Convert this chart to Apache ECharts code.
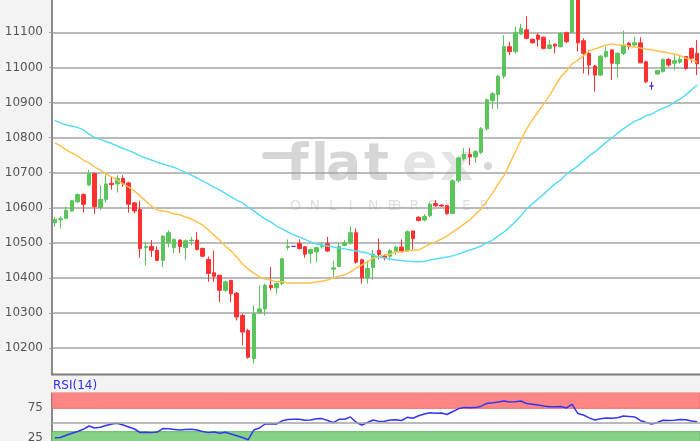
<!DOCTYPE html>
<html><head><meta charset="utf-8">
<script src="https://cdn.jsdelivr.net/npm/echarts@6/dist/echarts.min.js"></script>
<style>html,body{margin:0;padding:0;background:#f3f3f3}#c{width:700px;height:441px}</style>
</head><body><div id="c"></div>
<script>
// ---- data ----
const open = [10557,10566,10570,10591,10617,10638,10665,10698,10601,10624,
10670,10668,10684,10671,10614,10595,10487,10490,10479,10450,
10500,10487,10508,10487,10506,10508,10484,10453,10415,10408,
10365,10393,10357,10293,10250,10170,10300,10312,10379,10372,
10384,10487,10490,10498,10489,10470,10474,10489,10498,10425,
10433,10493,10500,10529,10452,10401,10430,10479,10463,10462,
10475,10488,10477,10534,10573,10565,10577,10612,10608,10606,
10584,10677,10740,10752,10745,10758,10825,10905,10923,10975,
11059,11045,11095,11107,11080,11092,11086,11054,11066,11059,
11099,11100,11230,11076,11040,11004,10978,11031,11050,11010,
11040,11069,11064,11070,11016,10947,10981,10988,11023,11012,
11015,11031,11054,11040];
const close = [10567,10569,10593,10620,10638,10610,10698,10603,10624,10668,
10666,10684,10668,10610,10591,10484,10490,10479,10450,10519,
10529,10510,10490,10506,10508,10481,10462,10413,10405,10365,
10389,10355,10289,10246,10174,10298,10312,10379,10372,10384,
10455,10490,10490,10484,10468,10481,10487,10493,10477,10429,
10490,10500,10529,10445,10401,10427,10468,10467,10458,10478,
10488,10477,10532,10512,10564,10575,10610,10606,10605,10583,
10677,10742,10752,10745,10760,10825,10908,10925,10975,11059,
11045,11099,11111,11083,11070,11080,11054,11064,11061,11097,
11073,11230,11070,11040,11007,10978,11032,11045,11012,11040,
11064,11059,11070,11013,10959,10947,10991,11023,11007,11019,
11023,10997,11026,11010];
const low = [10546,10541,10567,10589,10614,10586,10662,10582,10593,10614,
10652,10643,10660,10586,10584,10458,10436,10460,10450,10431,
10487,10471,10471,10452,10493,10479,10460,10389,10390,10331,
10360,10331,10279,10208,10170,10157,10298,10293,10365,10355,
10379,10479,10490,10481,10458,10441,10446,10484,10474,10403,
10431,10490,10495,10441,10384,10384,10395,10453,10450,10450,
10466,10472,10475,10482,10561,10561,10574,10603,10602,10580,
10582,10672,10735,10722,10728,10753,10820,10882,10882,10968,
11035,11040,11092,11080,11068,11059,11051,11051,11040,11057,
11069,11098,11045,10983,10978,10931,10975,11026,10964,10969,
11035,11050,11059,11012,10955,10936,10979,10985,11002,10993,
11010,10993,11013,10978];
const high = [10574,10576,10603,10622,10641,10641,10708,10700,10665,10693,
10690,10693,10693,10674,10617,10620,10503,10508,10490,10522,
10536,10512,10510,10510,10517,10531,10487,10461,10478,10408,
10393,10395,10360,10298,10255,10322,10379,10384,10431,10389,
10458,10510,10490,10510,10490,10484,10489,10503,10517,10450,
10500,10508,10548,10541,10455,10450,10480,10513,10468,10483,
10492,10510,10536,10535,10576,10582,10615,10622,10610,10608,
10682,10746,10770,10770,10765,10830,10911,10930,10978,11092,
11073,11116,11124,11146,11082,11097,11088,11078,11069,11100,
11102,11260,11250,11083,11050,11007,11035,11059,11051,11043,
11105,11073,11088,11086,11019,10959,10993,11023,11026,11035,
11035,11032,11057,11078];
const maShort = [10785,10776,10765,10756,10748,10736,10728,10716,10708,10696,
10688,10679,10668,10659,10648,10634,10619,10605,10594,10591,
10588,10582,10580,10574,10568,10560,10551,10537,10522,10508,
10491,10477,10460,10440,10426,10414,10403,10397,10394,10389,
10389,10386,10386,10386,10386,10386,10389,10391,10394,10400,
10406,10409,10417,10428,10437,10446,10457,10460,10466,10468,
10474,10474,10477,10480,10480,10488,10497,10503,10511,10520,
10531,10542,10554,10565,10582,10597,10619,10642,10668,10691,
10725,10759,10793,10825,10850,10873,10896,10919,10947,10973,
10990,11010,11021,11033,11047,11052,11058,11064,11067,11064,
11064,11061,11058,11055,11052,11050,11047,11044,11041,11038,
11033,11027,11021,11015];
const maLong = [10849,10842,10836,10833,10829,10822,10810,10800,10795,10789,
10783,10776,10769,10763,10756,10748,10742,10736,10730,10725,
10720,10715,10708,10701,10693,10685,10676,10668,10659,10651,
10641,10631,10622,10614,10602,10591,10579,10568,10560,10548,
10540,10531,10523,10517,10510,10503,10497,10494,10491,10488,
10485,10483,10480,10477,10474,10471,10465,10460,10457,10454,
10451,10450,10448,10447,10446,10448,10451,10454,10457,10460,
10463,10468,10474,10480,10485,10491,10500,10508,10520,10531,
10545,10560,10577,10597,10611,10625,10639,10654,10668,10679,
10696,10708,10719,10733,10748,10759,10773,10787,10799,10813,
10825,10836,10847,10853,10862,10867,10876,10884,10890,10901,
10910,10921,10936,10950];
const rsi = [25.0,25.3,29.0,32.3,35.3,38.9,44.4,41.1,42.2,45.2,
47.7,48.8,46.0,42.7,39.4,33.6,34.1,33.4,34.4,40.2,
39.7,38.7,37.7,38.7,38.9,37.7,35.3,33.4,34.4,32.5,
33.9,31.1,28.1,25.3,21.5,37.7,41.1,47.7,47.7,47.7,
53.0,55.1,55.5,55.5,53.8,54.3,56.3,56.6,53.5,49.8,
55.5,55.6,59.4,50.5,46.0,50.2,54.3,52.0,52.3,54.3,
54.6,53.5,58.8,57.3,61.4,64.2,66.4,65.4,65.9,63.4,
68.4,72.8,75.2,74.5,74.8,77.2,81.8,82.8,84.1,85.6,
84.1,84.6,85.8,81.6,80.5,79.1,77.5,76.3,76.3,76.8,
74.2,80.3,65.1,62.6,57.9,54.3,56.3,57.6,57.1,58.1,
60.9,60.3,59.3,53.5,50.2,47.7,50.2,54.0,53.3,53.8,
55.1,54.6,52.6,51.5];
const priceTicks = [10200,10300,10400,10500,10600,10700,10800,10900,11000,11100,11200];
const rsiTicks = [25,75];
const rsiOverbought = [73.7,100];
const rsiOversold = [0,35];
const rsiMid = 50;
const categories = open.map((_, i) => 'K' + (i + 1));

const ohlc = open.map((o, i) => [o, close[i], low[i], high[i]]);

const chart = echarts.init(document.getElementById('c'), null, {renderer: 'canvas'});
const lab = {color: '#555', fontFamily: 'DejaVu Sans', fontSize: 12};

function letters(str, x0, step, y, font, fill) {
  return str.split('').map((ch, k) => ({
    type: 'text', z: 0, silent: true,
    style: {text: ch, x: x0 + k * step, y: y, font: font, fill: fill, verticalAlign: 'middle'}
  }));
}
const wm = [];
wm.push({type: 'rect', z: 0, silent: true, shape: {x: 262, y: 152, width: 36, height: 7, r: 3.5}, style: {fill: '#d6d6d6'}});
const flatFont = 'bold 52px "DejaVu Sans"';
[['f', 286, '#d6d6d6'], ['l', 311, '#d6d6d6'], ['a', 326, '#d6d6d6'], ['t', 364, '#d6d6d6'], ['e', 402, '#e4e4e4'], ['x', 440, '#e4e4e4']]
  .forEach(([ch, x, c]) => wm.push({type: 'text', z: 0, silent: true, style: {text: ch, x: x, y: 166, font: flatFont, fill: c, verticalAlign: 'middle'}}));
wm.push({type: 'circle', z: 0, silent: true, shape: {cx: 488, cy: 166, r: 4}, style: {fill: '#d6d6d6'}});
wm.push(...letters('ONLINE', 290, 19.5, 206, '14px "DejaVu Sans"', '#e0e0e0'));
wm.push(...letters('BROKER', 392, 17.5, 206, '14px "DejaVu Sans"', '#e0e0e0'));

chart.setOption({
  animation: false,
  backgroundColor: '#f3f3f3',
  grid: [
    {left: 52, right: 0, top: -2.8, height: 386.1, show: true, backgroundColor: '#fff', borderWidth: 0,
     containLabel: false, outerBoundsMode: 'none'},
    {left: 52, right: 0, top: 392.4, height: 60.4, show: true, backgroundColor: '#fff', borderWidth: 0,
     containLabel: false, outerBoundsMode: 'none'}
  ],
  xAxis: [
    {type: 'category', gridIndex: 0, data: categories, boundaryGap: true,
     axisLine: {show: false}, axisTick: {show: false}, axisLabel: {show: false}, splitLine: {show: false}},
    {type: 'category', gridIndex: 1, data: categories, boundaryGap: true,
     axisLine: {show: false}, axisTick: {show: false}, axisLabel: {show: false}, splitLine: {show: false}}
  ],
  yAxis: [
    {type: 'value', gridIndex: 0, min: 10100, max: 11200, interval: 100,
     axisLine: {show: true, lineStyle: {color: '#8a8a8a', width: 2}},
     axisTick: {show: true, length: 3, lineStyle: {color: '#a0a0a0'}},
     axisLabel: Object.assign({margin: 9, hideOverlap: false, showMaxLabel: true, showMinLabel: true,
       formatter: v => priceTicks.includes(v) ? String(v) : ''}, lab),
     splitLine: {show: true, lineStyle: {color: '#a4a4a4', width: 1.5}}},
    {type: 'value', gridIndex: 1, min: 0, max: 100, interval: 25,
     axisLine: {show: true, lineStyle: {color: '#8a8a8a', width: 2}},
     axisTick: {show: false},
     axisLabel: Object.assign({margin: 9, formatter: v => rsiTicks.includes(v) ? String(v) : ''}, lab),
     splitLine: {show: false}}
  ],
  series: [
    {type: 'candlestick', xAxisIndex: 0, yAxisIndex: 0, data: ohlc, barWidth: 4, clip: true,
     itemStyle: {color: '#5bc55b', color0: '#ff3030', borderColor: '#5bc55b', borderColor0: '#ff3030',
                 borderColorDoji: '#4a2ee0', borderWidth: 1}},
    {type: 'line', xAxisIndex: 0, yAxisIndex: 0, data: maShort, showSymbol: false, symbol: 'none',
     lineStyle: {color: '#ffc24f', width: 1.5}, z: 3},
    {type: 'line', xAxisIndex: 0, yAxisIndex: 0, data: maLong, showSymbol: false, symbol: 'none',
     lineStyle: {color: '#58dcf6', width: 1.5}, z: 3},
    {type: 'line', xAxisIndex: 1, yAxisIndex: 1, data: rsi, showSymbol: false, symbol: 'none',
     lineStyle: {color: '#3434f2', width: 1.5}, z: 4,
     markArea: {silent: true, data: [
       [{yAxis: rsiOverbought[0], itemStyle: {color: '#ff8686', borderColor: '#e36a6a', borderWidth: 1}}, {yAxis: rsiOverbought[1]}],
       [{yAxis: rsiOversold[0], itemStyle: {color: '#86d286', borderColor: '#62ba62', borderWidth: 1}}, {yAxis: rsiOversold[1]}]
     ]},
     markLine: {silent: true, symbol: 'none', label: {show: false},
       lineStyle: {color: '#a4a4a4', width: 1.5, type: 'solid'}, data: [{yAxis: rsiMid}]}}
  ],
  graphic: wm.concat([
    {type: 'rect', z: 100, silent: true, shape: {x: 0, y: 375, width: 700, height: 17.4}, style: {fill: '#f3f3f3'}},
    {type: 'line', z: 101, silent: true, shape: {x1: 51, y1: 374.5, x2: 700, y2: 374.5}, style: {stroke: '#7d7d7d', lineWidth: 2}},
    {type: 'text', z: 101, silent: true, style: {text: 'RSI(14)', x: 53, y: 386, font: '12px "DejaVu Sans"', fill: '#2d2dff', verticalAlign: 'middle'}}
  ])
});
</script></body></html>
